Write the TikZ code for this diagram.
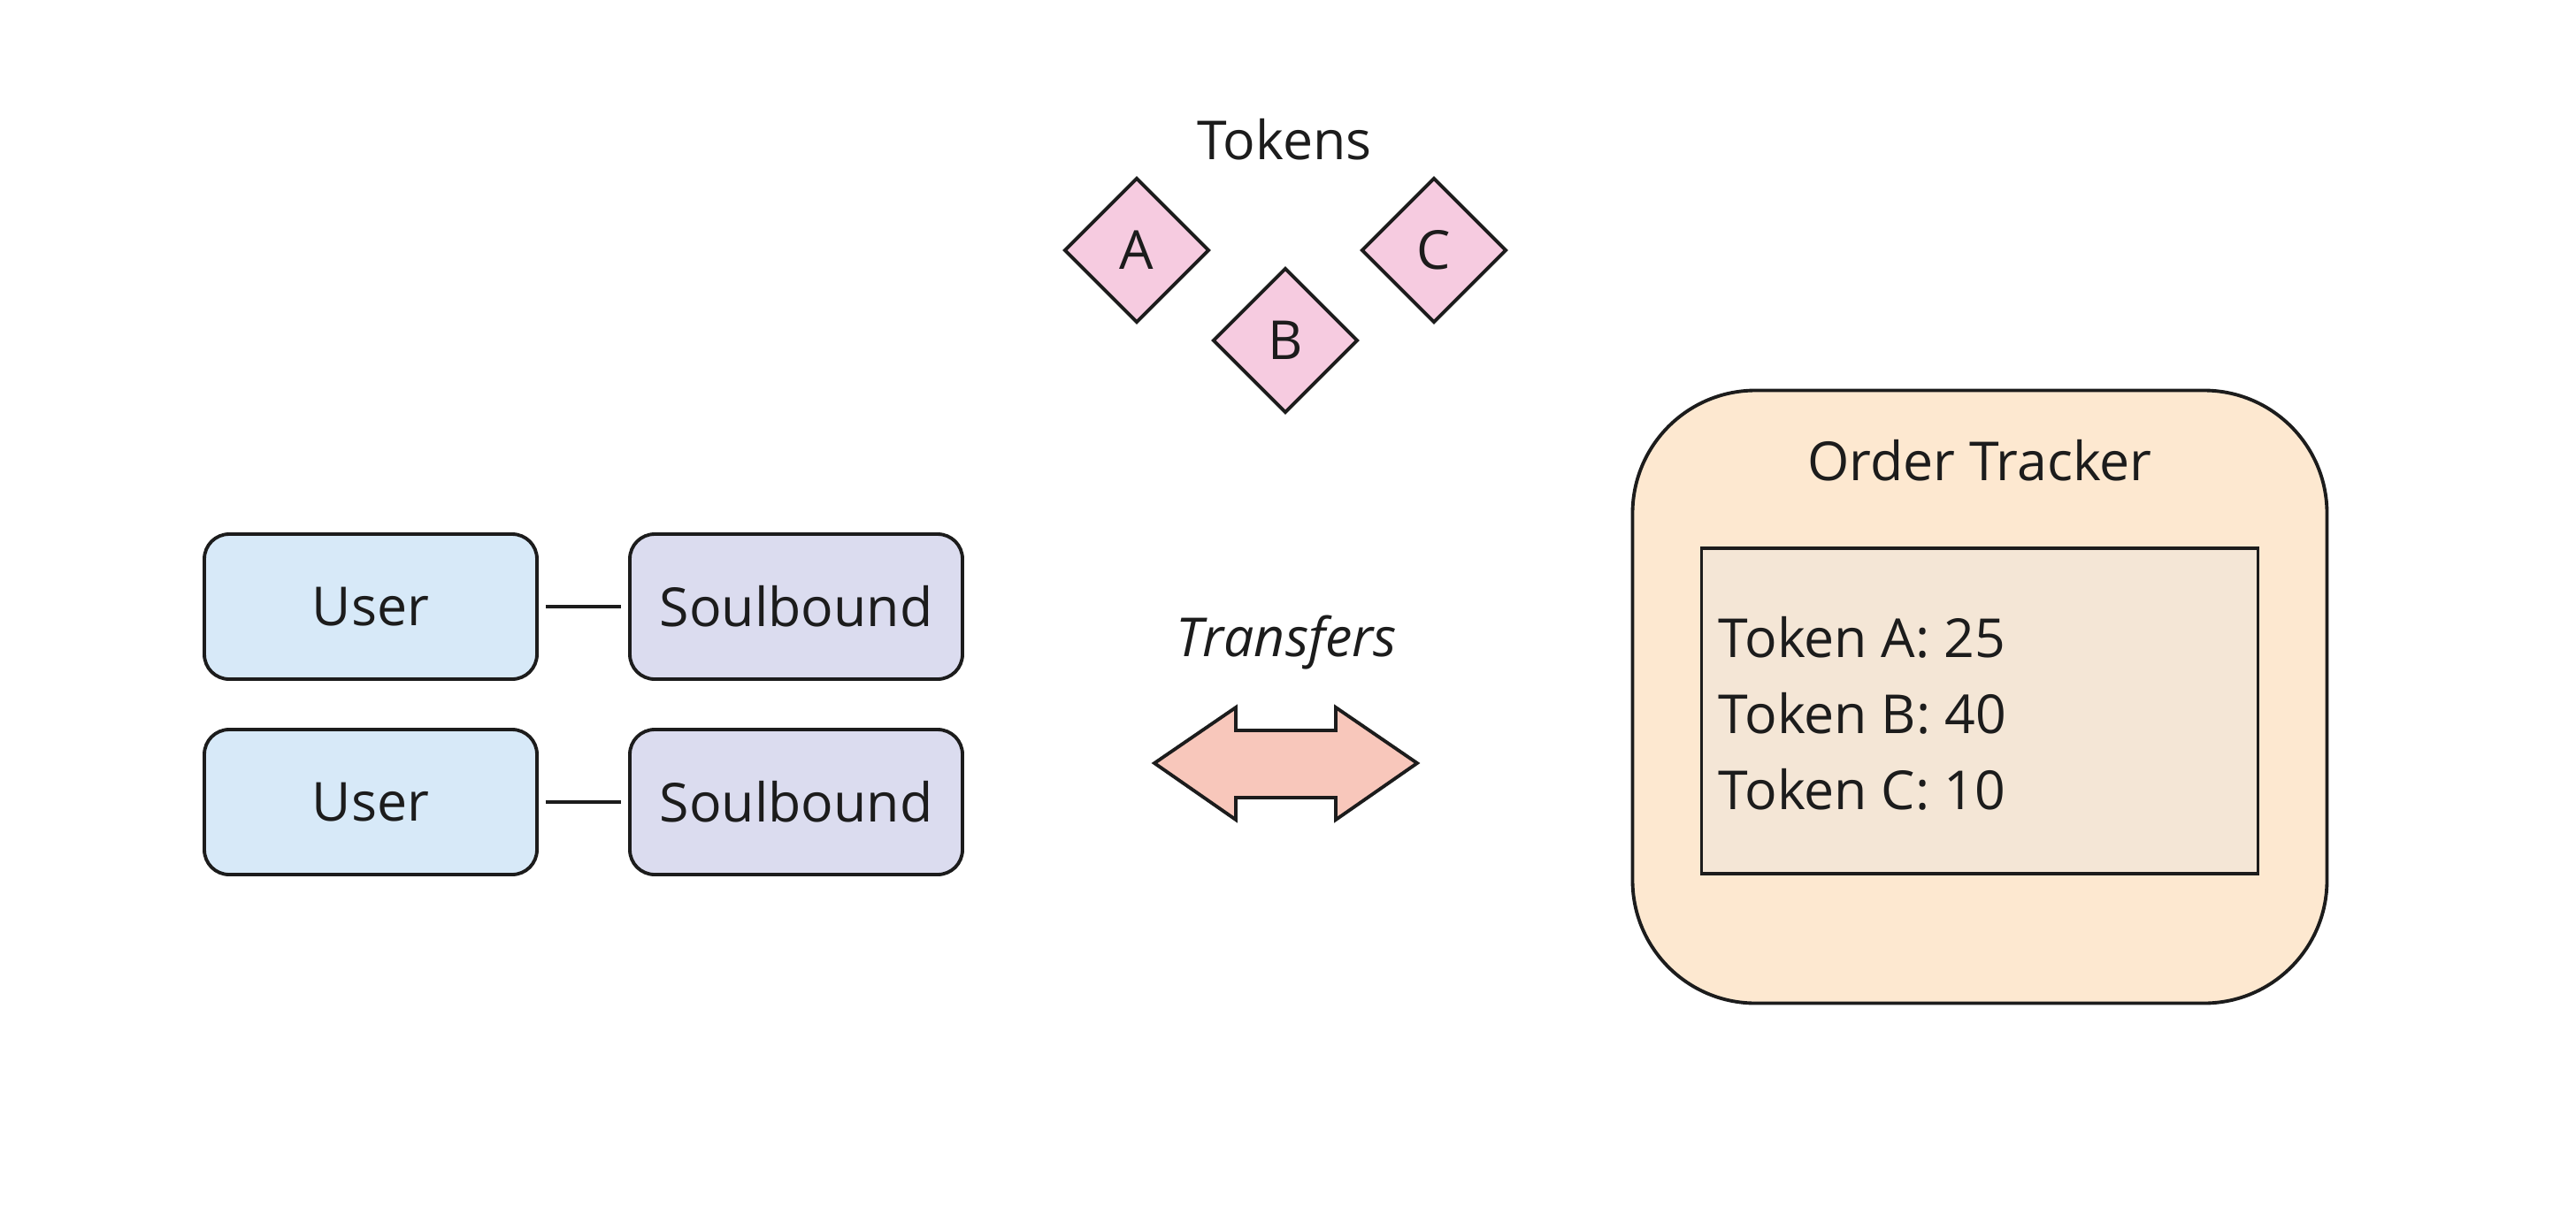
\documentclass[tikz,border=0pt]{standalone}
\usepackage{fontspec}
\setmainfont{Open Sans}
\usetikzlibrary{shapes.geometric}
\definecolor{ink}{HTML}{1C1C1C}
\definecolor{userblue}{HTML}{D7E9F8}
\definecolor{soulpurple}{HTML}{DBDCEF}
\definecolor{tokenpink}{HTML}{F6CBE0}
\definecolor{arrowsalmon}{HTML}{F8C7BB}
\definecolor{trackerpeach}{HTML}{FDE8D0}
\definecolor{listbeige}{HTML}{F4E6D6}
\begin{document}
\begin{tikzpicture}[line width=1.1pt, draw=ink, text=ink, font=\fontsize{17.3}{24.5}\selectfont]
        \tikzstyle{box}=[draw=ink,rounded corners=0.28cm,minimum width=3.76cm,minimum height=1.64cm,inner sep=0pt]
        \tikzstyle{token}=[diamond,draw=ink,fill=tokenpink,minimum width=1.64cm,minimum height=1.64cm,inner sep=0pt]
        \useasboundingbox (0,0) rectangle (29.12,-13.73);

        \node (tokens) at (14.52,-1.58) {Tokens};
        \foreach \name/\x/\y in {A/12.85/-2.83, B/14.53/-3.85, C/16.21/-2.83}
                \node[token] (T-\name) at (\x,\y) {\name};

        \foreach \row/\y in {1/-6.86, 2/-9.07} {
                \node[box,fill=userblue] (U-\row) at (4.19,\y) {User};
                \node[box,fill=soulpurple] (S-\row) at (9.0,\y) {Soulbound};
                \draw[shorten <=0.08cm, shorten >=0.08cm] (U-\row) -- (S-\row);
        }

        \node (transfers) at (14.54,-7.27) {\itshape Transfers};
        \filldraw[fill=arrowsalmon] (13.05,-8.63) -- (13.97,-8.00) -- (13.97,-8.26) -- (15.10,-8.26) -- (15.10,-8.00) -- (16.02,-8.63)
                -- (15.10,-9.27) -- (15.10,-9.02) -- (13.97,-9.02) -- (13.97,-9.27) -- cycle;

        \node[draw=ink,fill=trackerpeach,rounded corners=1.39cm,minimum width=7.85cm,minimum height=6.93cm] (tracker) at (22.38,-7.88) {};
        \node (tracker-title) at (22.38,-5.21) {Order Tracker};
        \node[draw=ink,fill=listbeige,minimum width=6.29cm,minimum height=3.68cm] (counts) at (22.38,-8.04) {};
        \node[anchor=west,align=left,inner sep=0pt] (count-list) at (19.41,-8.07) {Token A: 25\\Token B: 40\\Token C: 10};
\end{tikzpicture}
\end{document}
